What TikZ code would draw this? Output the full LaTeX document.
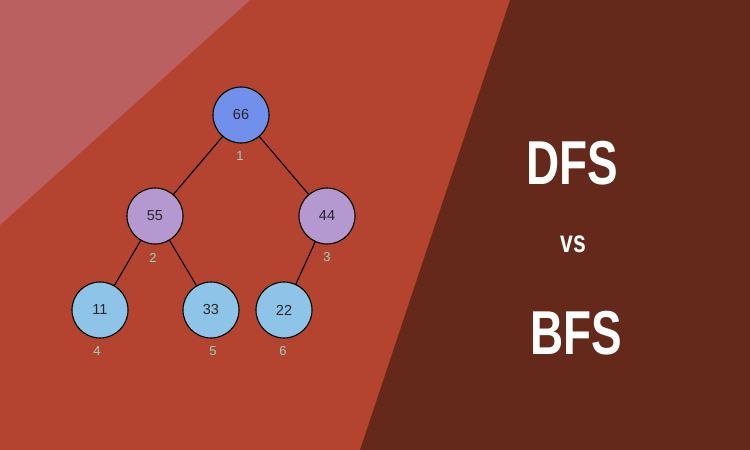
\documentclass[tikz,border=0pt]{standalone}
\usepackage{fontspec}
\setmainfont{Liberation Sans}
\begin{document}
\begin{tikzpicture}[x=1pt,y=-1pt,
  nd/.style={circle,draw=black,line width=1.1pt,minimum size=56pt,inner sep=0pt,font=\fontsize{14.5}{14.5}\selectfont,text=black!85},
  idx/.style={text=idxc,font=\fontsize{13}{13}\selectfont},
  big/.style={text=white,font=\bfseries\fontsize{62}{62}\selectfont}]
\definecolor{bgred}{HTML}{B44430}
\definecolor{bgpink}{HTML}{BA6060}
\definecolor{bgdark}{HTML}{64291B}
\definecolor{rootc}{HTML}{7190EC}
\definecolor{midc}{HTML}{B399D0}
\definecolor{leafc}{HTML}{8EC4E8}
\definecolor{idxc}{HTML}{8FD8C4}
\useasboundingbox (0,0) rectangle (750,450);
\fill[bgred] (0,0) rectangle (750,450);
\fill[bgpink] (0,0) -- (250,0) -- (0,225) -- cycle;
\fill[bgdark] (510,0) -- (750,0) -- (750,450) -- (360,450) -- cycle;
\node[nd,fill=rootc] (a) at (241,115) {66};
\node[nd,fill=midc] (b) at (155,216) {55};
\node[nd,fill=midc] (c) at (327,216) {44};
\node[nd,fill=leafc] (d) at (100,310) {11};
\node[nd,fill=leafc] (e) at (211,310) {33};
\node[nd,fill=leafc] (f) at (284,310) {22};
\draw[line width=1.1pt] (a)--(b) (a)--(c) (b)--(d) (b)--(e) (c)--(f);
\node[idx] (i1) at (240,156) {1};
\node[idx] (i2) at (153,258) {2};
\node[idx] (i3) at (327,257) {3};
\node[idx] (i4) at (97,351) {4};
\node[idx] (i5) at (213,351) {5};
\node[idx] (i6) at (283,351) {6};
\node[big] (t1) at (572,163) {\scalebox{0.74}[1]{DFS}};
\node[text=white,font=\bfseries\fontsize{31}{31}\selectfont] (t2) at (573,244) {\scalebox{0.74}[1]{vs}};
\node[big] (t3) at (576,333) {\scalebox{0.74}[1]{BFS}};
\end{tikzpicture}
\end{document}
